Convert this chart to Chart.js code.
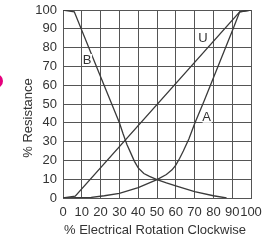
<!DOCTYPE html>
<html>
<head>
<meta charset="utf-8">
<script src="https://cdn.jsdelivr.net/npm/chart.js@4"></script>
<style>
  html, body { margin: 0; padding: 0; background: #fff; }
  #wrap { width: 268px; height: 242px; position: relative; }
</style>
</head>
<body>
<div id="wrap"><canvas id="myChart"></canvas></div>
<script>
// curve A
const xA = [0, 15, 22, 30, 40, 50, 55, 58, 60, 62, 64, 67, 70, 75, 90.5, 94, 100]
const yA = [0, 0.3, 1.2, 2.5, 5.5, 9.8, 12.5, 15, 17.5, 21, 25, 31.5, 39.5, 51.5, 90, 99, 100]
// curve B
const xB = [0, 6, 20, 30, 32, 34, 36, 38, 40, 43, 46, 50, 55, 60, 70, 80, 87]
const yB = [100, 99, 64.5, 40, 34, 28.5, 24, 19.5, 16, 13, 11.5, 9.8, 8, 6.4, 3.4, 1.2, 0]
// curve U
const xU = [0, 6.5, 94, 100]
const yU = [0, 1, 99, 100]

const curveNames = ['A', 'B', 'U']
const labelX = [76.4, 12.8, 74.5]
const labelY = [43.2, 73.4, 85.1]

const xTitle = '% Electrical Rotation Clockwise'
const yTitle = '% Resistance'

const toPts = (xs, ys) => xs.map((x, i) => ({ x: x, y: ys[i] }))

const lineColor = '#3a3a3a'
const gridColor = '#555'
const textColor = '#333'
const font = "'Liberation Sans', Arial, Helvetica, sans-serif"

const curveSet = (name, pts) => ({
  label: name,
  data: pts,
  borderColor: lineColor,
  borderWidth: 1.3,
  pointRadius: 0,
  tension: 0,
  fill: false
})

// extra texts: curve letters, axis titles, the pink dot at the left edge
const extras = {
  id: 'extras',
  beforeDraw(chart) {
    const c = chart.ctx
    c.save()
    c.fillStyle = '#e5007d'
    c.beginPath()
    c.arc(-4, 81, 7, 0, Math.PI * 2)
    c.fill()
    c.restore()
  },
  afterDraw(chart) {
    const c = chart.ctx
    const sx = chart.scales.x
    const sy = chart.scales.y
    const a = chart.chartArea
    c.save()
    c.fillStyle = textColor
    c.font = '13px ' + font
    c.textAlign = 'center'
    c.textBaseline = 'middle'
    curveNames.forEach((n, i) => {
      const px = sx.getPixelForValue(labelX[i])
      const py = sy.getPixelForValue(labelY[i])
      c.fillStyle = '#fff'
      c.fillRect(px - 4, py - 6, 9, 12)
      c.fillStyle = textColor
      c.fillText(n, px, py + 0.5)
    })
    c.fillText(xTitle, (a.left + a.right) / 2 - 2, 230)
    c.translate(28, 118)
    c.rotate(-Math.PI / 2)
    c.fillText(yTitle, 0, 0)
    c.restore()
  }
}

const ctx = document.getElementById('myChart')
const myChart = new Chart(ctx, {
  type: 'line',
  data: {
    datasets: [
      curveSet('A', toPts(xA, yA)),
      curveSet('B', toPts(xB, yB)),
      curveSet('U', toPts(xU, yU))
    ]
  },
  options: {
    responsive: true,
    maintainAspectRatio: false,
    animation: false,
    layout: { padding: { left: 0, right: 17, top: 10, bottom: 0 } },
    scales: {
      x: {
        type: 'linear',
        min: 0,
        max: 100,
        afterFit: s => { s.height = 44; s.paddingLeft = 0; s.paddingRight = 0 },
        ticks: { stepSize: 10, color: textColor, padding: 7, maxRotation: 0, autoSkip: false, font: { family: font, size: 13 } },
        grid: { color: gridColor, drawTicks: false, lineWidth: 1 },
        border: { color: gridColor }
      },
      y: {
        min: 0,
        max: 100,
        afterFit: s => { s.width = 63; s.paddingTop = 0; s.paddingBottom = 0 },
        ticks: { stepSize: 10, color: textColor, padding: 6, autoSkip: false, font: { family: font, size: 13 } },
        grid: { color: gridColor, drawTicks: false, lineWidth: 1 },
        border: { color: gridColor }
      }
    },
    plugins: {
      legend: { display: false },
      tooltip: { enabled: false }
    }
  },
  plugins: [extras]
})
</script>
</body>
</html>
